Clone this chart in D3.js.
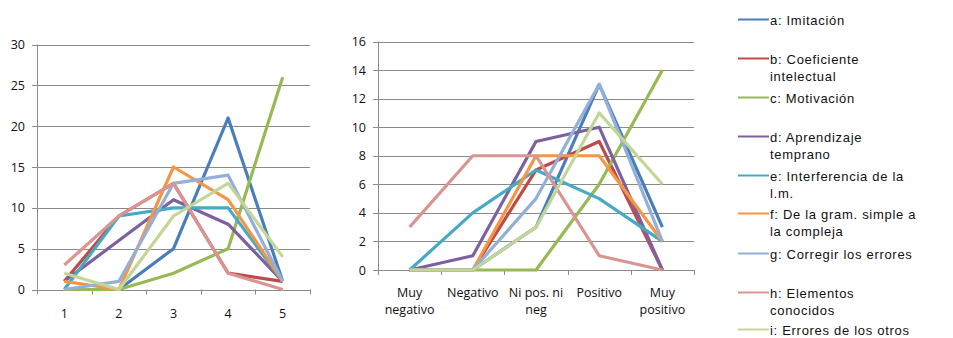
<!DOCTYPE html>
<html><head><meta charset="utf-8">
<script src="https://cdn.jsdelivr.net/npm/d3@7"></script>
<style>
body{margin:0;background:#fff;}
svg{display:block;font-family:"Open Sans","Liberation Sans",sans-serif;}
</style></head><body>
<svg id="c" width="953" height="338"></svg>
<script>
const seriesNames = ["a: Imitación","b: Coeficiente intelectual","c: Motivación","d: Aprendizaje temprano","e: Interferencia de la l.m.","f: De la gram. simple a la compleja","g: Corregir los errores","h: Elementos conocidos","i: Errores de los otros"];
const legendLines = [["a: Imitación"],["b: Coeficiente","intelectual"],["c: Motivación"],["d: Aprendizaje","temprano"],["e: Interferencia de la","l.m."],["f: De la gram. simple a","la compleja"],["g: Corregir los errores"],["h: Elementos","conocidos"],["i: Errores de los otros"]];
const colors = ["#4A7EBB","#BE4B48","#98B954","#7D60A0","#46AAC5","#F59645","#94B0D8","#D99592","#C2D69A"];

const leftCats = ["1","2","3","4","5"];
const leftTicks = [0,5,10,15,20,25,30];
const leftA = [0,0,5,21,1];
const leftB = [1,9,13,2,1];
const leftC = [0,0,2,5,26];
const leftD = [1,6,11,8,1];
const leftE = [0,9,10,10,1];
const leftF = [1,0,15,11,1];
const leftG = [0,1,13,14,1];
const leftH = [3,9,13,2,0];
const leftI = [2,0,9,13,4];

const rightCats = [["Muy","negativo"],["Negativo"],["Ni pos. ni","neg"],["Positivo"],["Muy","positivo"]];
const rightTicks = [0,2,4,6,8,10,12,14,16];
const rightA = [0,0,3,13,3];
const rightB = [0,0,7,9,0];
const rightC = [0,0,0,6,14];
const rightD = [0,1,9,10,0];
const rightE = [0,4,7,5,2];
const rightF = [0,0,8,8,2];
const rightG = [0,0,5,13,2];
const rightH = [3,8,8,1,0];
const rightI = [0,0,3,11,6];

const svg = d3.select("#c");

function chart(cfg){
  const g = svg.append("g");
  const x = d3.scaleBand().domain(d3.range(cfg.cats.length)).range([cfg.x0,cfg.x1]);
  const y = d3.scaleLinear().domain([0,cfg.max]).range([cfg.y0,cfg.y1]);
  g.selectAll(".grid").data(cfg.ticks).join("line")
    .attr("x1",cfg.x0-5).attr("x2",cfg.x1)
    .attr("y1",d=>Math.round(y(d))+0.5).attr("y2",d=>Math.round(y(d))+0.5)
    .attr("stroke","#8a8a8a").attr("stroke-width",1);
  g.append("line").attr("x1",cfg.x0+0.5).attr("x2",cfg.x0+0.5)
    .attr("y1",y(cfg.max)).attr("y2",cfg.y0).attr("stroke","#8a8a8a");
  const bounds = d3.range(cfg.cats.length+1).map(i=>cfg.x0+i*x.bandwidth());
  g.selectAll(".xt").data(bounds).join("line")
    .attr("x1",d=>Math.round(d)+0.5).attr("x2",d=>Math.round(d)+0.5)
    .attr("y1",cfg.y0).attr("y2",cfg.y0+5).attr("stroke","#8a8a8a");
  g.selectAll(".yl").data(cfg.ticks).join("text")
    .attr("x",cfg.x0-12).attr("y",d=>y(d)+4.5)
    .attr("text-anchor","end").attr("font-size",12.5).attr("fill","#111")
    .text(d=>d);
  cfg.cats.forEach((c,i)=>{
    const lines = Array.isArray(c)?c:[c];
    lines.forEach((t,j)=>{
      g.append("text").attr("x",x(i)+x.bandwidth()/2).attr("y",cfg.labelY+j*17)
        .attr("text-anchor","middle").attr("font-size",12.5).attr("fill","#111").text(t);
    });
  });
  const line = d3.line().x((d,i)=>x(i)+x.bandwidth()/2).y(d=>y(d));
  cfg.series.forEach((s,k)=>{
    g.append("path").attr("d",line(s)).attr("fill","none")
      .attr("stroke",colors[k]).attr("stroke-width",3.2)
      .attr("stroke-linejoin","round").attr("stroke-linecap","butt");
  });
}

chart({cats:leftCats,ticks:leftTicks,max:30,x0:37,x1:310,y0:289.5,y1:44.5,labelY:318,
  series:[leftA,leftB,leftC,leftD,leftE,leftF,leftG,leftH,leftI]});
chart({cats:rightCats,ticks:rightTicks,max:16,x0:378,x1:694,y0:270,y1:41.5,labelY:297,
  series:[rightA,rightB,rightC,rightD,rightE,rightF,rightG,rightH,rightI]});

const legY = [20,59,98,137,176,214,254,293,330];
const lg = svg.append("g");
legendLines.forEach((ls,k)=>{
  lg.append("line").attr("x1",738).attr("x2",769).attr("y1",legY[k]-0.5).attr("y2",legY[k]-0.5)
    .attr("stroke",colors[k]).attr("stroke-width",2);
  ls.forEach((t,j)=>{
    lg.append("text").attr("x",770).attr("y",legY[k]+5+j*17)
      .attr("font-family","'Liberation Sans',Arial,sans-serif")
      .attr("font-size",13).attr("letter-spacing",0.7).attr("fill","#111").text(t);
  });
});
</script>
</body></html>
